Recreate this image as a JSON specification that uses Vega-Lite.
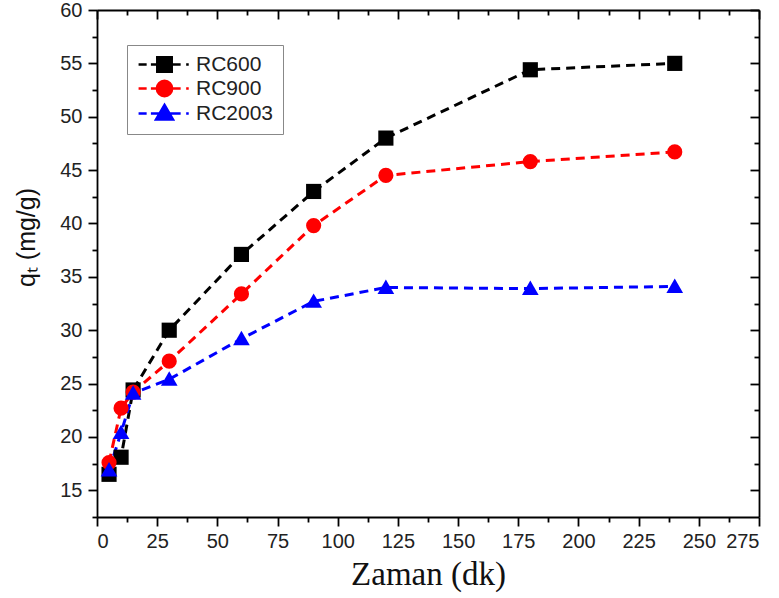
{
  "$schema": "https://vega.github.io/schema/vega-lite/v6.json",
  "width": 662,
  "height": 507,
  "autosize": {"type": "none"},
  "padding": {"left": 97, "top": 10, "right": 20, "bottom": 81},
  "background": "white",
  "config": {
    "view": {"stroke": null},
    "axis": {"grid": false, "domainColor": "#000", "domainWidth": 1.8, "tickColor": "#000", "tickWidth": 1.8,
      "labelFont": "Liberation Sans", "labelFontSize": 20, "labelColor": "#222", "titleColor": "#111"}
  },
  "data": {"values": [
    {"t": 5, "q": 16.5, "s": "RC600"}, {"t": 10, "q": 18.1, "s": "RC600"}, {"t": 15, "q": 24.4, "s": "RC600"},
    {"t": 30, "q": 30.0, "s": "RC600"}, {"t": 60, "q": 37.1, "s": "RC600"}, {"t": 90, "q": 43.0, "s": "RC600"},
    {"t": 120, "q": 48.0, "s": "RC600"}, {"t": 180, "q": 54.4, "s": "RC600"}, {"t": 240, "q": 55.0, "s": "RC600"},
    {"t": 5, "q": 17.6, "s": "RC900"}, {"t": 10, "q": 22.7, "s": "RC900"}, {"t": 15, "q": 24.2, "s": "RC900"},
    {"t": 30, "q": 27.1, "s": "RC900"}, {"t": 60, "q": 33.4, "s": "RC900"}, {"t": 90, "q": 39.8, "s": "RC900"},
    {"t": 120, "q": 44.5, "s": "RC900"}, {"t": 180, "q": 45.8, "s": "RC900"}, {"t": 240, "q": 46.7, "s": "RC900"},
    {"t": 5, "q": 16.9, "s": "RC2003"}, {"t": 10, "q": 20.4, "s": "RC2003"}, {"t": 15, "q": 24.1, "s": "RC2003"},
    {"t": 30, "q": 25.4, "s": "RC2003"}, {"t": 60, "q": 29.2, "s": "RC2003"}, {"t": 90, "q": 32.7, "s": "RC2003"},
    {"t": 120, "q": 34.0, "s": "RC2003"}, {"t": 180, "q": 33.9, "s": "RC2003"}, {"t": 240, "q": 34.1, "s": "RC2003"}
  ]},
  "layer": [
    {
      "mark": {"type": "line", "strokeDash": [9, 6], "strokeWidth": 3},
      "encoding": {
        "x": {"field": "t", "type": "quantitative", "scale": {"domain": [0, 275], "nice": false, "zero": false},
          "axis": {"orient": "bottom", "values": [0,25,50,75,100,125,150,175,200,225,250,275], "tickSize": 9, "labelPadding": 5,
            "title": "Zaman (dk)", "titleFont": "Liberation Serif", "titleFontSize": 33, "titleFontWeight": "normal", "titlePadding": 7}},
        "y": {"field": "q", "type": "quantitative", "scale": {"domain": [12.5, 60], "nice": false, "zero": false},
          "axis": {"orient": "left", "values": [15,20,25,30,35,40,45,50,55,60], "tickSize": 9, "labelPadding": 6,
            "title": "qₜ (mg/g)", "titleFont": "Liberation Sans", "titleFontSize": 25, "titleFontWeight": "normal", "titlePadding": 20, "titleY": 227}},
        "stroke": {"field": "s", "type": "nominal", "scale": {"range": ["#0000ff", "#000000", "#ff0000"]}, "legend": null},
        "detail": {"field": "s"}
      }
    },
    {
      "mark": {"type": "point", "filled": true, "opacity": 1, "size": 230},
      "encoding": {
        "x": {"field": "t", "type": "quantitative", "axis": null},
        "y": {"field": "q", "type": "quantitative", "axis": null},
        "color": {"field": "s", "type": "nominal", "scale": {"domain": ["RC600", "RC900", "RC2003"], "range": ["#000000", "#ff0000", "#0000ff"]},
          "legend": {"orient": "none", "legendX": 30, "legendY": 35, "title": null, "strokeColor": "#888", "padding": 9,
            "labelFont": "Liberation Sans", "labelFontSize": 21, "labelColor": "#222", "symbolSize": 289, "symbolOffset": 18, "labelOffset": 21, "rowPadding": -2,
            "symbolStrokeWidth": 2.5,
            "symbolStrokeColor": {"expr": "scale('color', datum.value)"},
            "symbolType": {"expr": "datum.value === 'RC600' ? 'M-3.05,0H-2.1M-1.6,0H1.9M2.55,0H2.85M-0.85,-0.85H0.85V0.85H-0.85Z' : datum.value === 'RC900' ? 'M-3.05,0H-2.1M-1.6,0H1.9M2.55,0H2.85M-0.9,0A0.9,0.9 0 1,0 0.9,0A0.9,0.9 0 1,0 -0.9,0Z' : 'M-3.05,0H-2.1M-1.6,0H1.9M2.55,0H2.85M0,-1L1,0.7L-1,0.7Z'"}}},
        "shape": {"field": "s", "type": "nominal", "scale": {"range": ["M0,-1.05L1.1,0.85L-1.1,0.85Z", "square", "circle"]}, "legend": null}
      }
    },
    {
      "mark": {"type": "point", "opacity": 0},
      "encoding": {
        "x": {"field": "t", "type": "quantitative", "axis": {"orient": "bottom", "values": [12.5,37.5,62.5,87.5,112.5,137.5,162.5,187.5,212.5,237.5,262.5], "tickSize": 5, "labels": false, "domain": false, "title": null}},
        "y": {"field": "q", "type": "quantitative", "axis": {"orient": "left", "values": [12.5,17.5,22.5,27.5,32.5,37.5,42.5,47.5,52.5,57.5], "tickSize": 5, "labels": false, "domain": false, "title": null}}
      }
    },
    {
      "mark": {"type": "point", "opacity": 0},
      "encoding": {
        "x": {"field": "t", "type": "quantitative", "axis": {"orient": "top", "values": [0,25,50,75,100,125,150,175,200,225,250,275], "tickSize": -9, "labels": false, "title": null}},
        "y": {"field": "q", "type": "quantitative", "axis": {"orient": "right", "values": [15,20,25,30,35,40,45,50,55,60], "tickSize": -9, "labels": false, "title": null}}
      }
    },
    {
      "mark": {"type": "point", "opacity": 0},
      "encoding": {
        "x": {"field": "t", "type": "quantitative", "axis": {"orient": "top", "values": [12.5,37.5,62.5,87.5,112.5,137.5,162.5,187.5,212.5,237.5,262.5], "tickSize": -5, "labels": false, "domain": false, "title": null}},
        "y": {"field": "q", "type": "quantitative", "axis": {"orient": "right", "values": [17.5,22.5,27.5,32.5,37.5,42.5,47.5,52.5,57.5], "tickSize": -5, "labels": false, "domain": false, "title": null}}
      }
    }
  ],
  "resolve": {"axis": {"x": "independent", "y": "independent"}}
}
